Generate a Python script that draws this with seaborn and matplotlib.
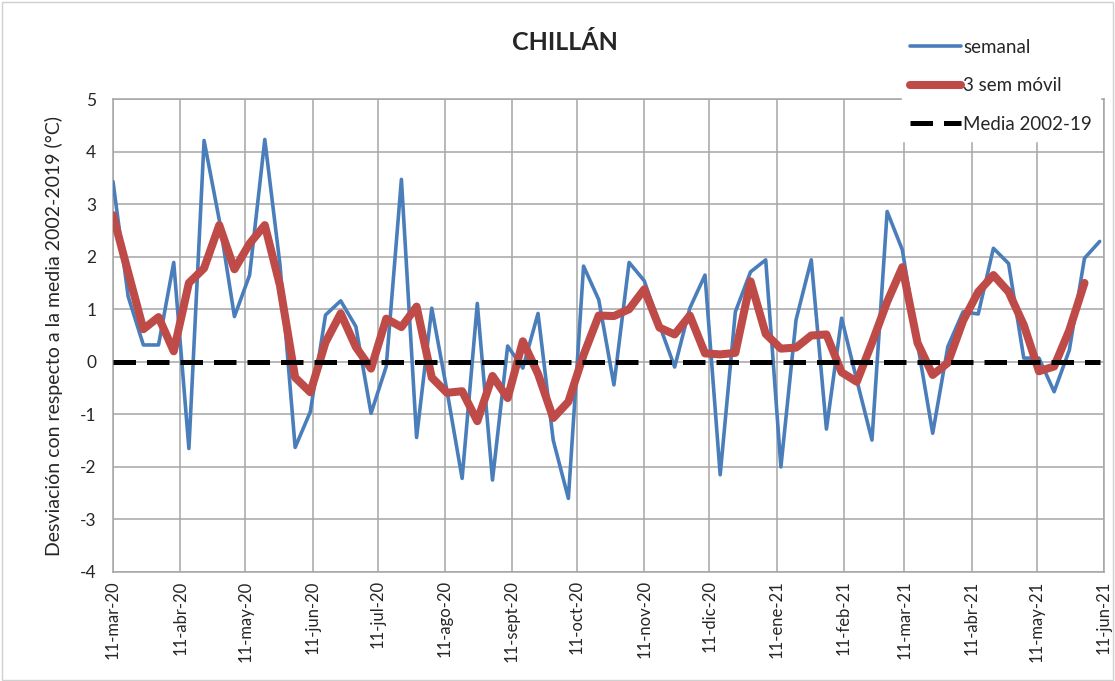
import numpy as np
import pandas as pd
import matplotlib
matplotlib.use("Agg")
import matplotlib.pyplot as plt
from matplotlib.patches import Rectangle
import seaborn as sns

# ---- data ----
start_date = "2020-03-11"
n_weeks = 66
semanal = [3.43, 1.24, 0.32, 0.32, 1.89, -1.65, 4.21, 2.70, 0.86, 1.65,
           4.23, 1.85, -1.63, -0.95, 0.89, 1.16, 0.67, -0.98, -0.09, 3.47,
           -1.44, 1.02, -0.55, -2.22, 1.11, -2.25, 0.30, -0.12, 0.92, -1.49,
           -2.60, 1.82, 1.18, -0.44, 1.89, 1.54, 0.70, -0.10, 1.02, 1.65,
           -2.15, 0.95, 1.71, 1.94, -2.00, 0.80, 1.94, -1.28, 0.83, -0.35,
           -1.49, 2.86, 2.13, 0.35, -1.36, 0.29, 0.95, 0.91, 2.16, 1.87,
           0.07, 0.07, -0.57, 0.22, 1.97, 2.29]
movil = [2.79, 1.70, 0.62, 0.85, 0.20, 1.50, 1.78, 2.60, 1.76, 2.25,
         2.60, 1.45, -0.30, -0.58, 0.37, 0.92, 0.28, -0.13, 0.82, 0.66,
         1.05, -0.30, -0.59, -0.56, -1.13, -0.27, -0.69, 0.39, -0.23, -1.07,
         -0.76, 0.13, 0.88, 0.87, 1.00, 1.38, 0.65, 0.52, 0.88, 0.16,
         0.14, 0.17, 1.53, 0.53, 0.25, 0.27, 0.50, 0.52, -0.20, -0.38,
         0.36, 1.14, 1.80, 0.36, -0.25, -0.02, 0.78, 1.33, 1.65, 1.33,
         0.70, -0.18, -0.09, 0.60, 1.50, np.nan]
media = [0.0] * n_weeks

tick_dates = ["2020-03-11", "2020-04-11", "2020-05-11", "2020-06-11", "2020-07-11",
              "2020-08-11", "2020-09-11", "2020-10-11", "2020-11-11", "2020-12-11",
              "2021-01-11", "2021-02-11", "2021-03-11", "2021-04-11", "2021-05-11",
              "2021-06-11"]
tick_labels = ["11-mar-20", "11-abr-20", "11-may-20", "11-jun-20", "11-jul-20",
               "11-ago-20", "11-sept-20", "11-oct-20", "11-nov-20", "11-dic-20",
               "11-ene-21", "11-feb-21", "11-mar-21", "11-abr-21", "11-may-21",
               "11-jun-21"]
y_ticks = [-4, -3, -2, -1, 0, 1, 2, 3, 4, 5]

fechas = pd.date_range(start_date, periods=n_weeks, freq="7D")
df = pd.DataFrame({"fecha": fechas, "semanal": semanal, "movil": movil, "media": media})

# ---- style ----
sns.set_theme(style="white")
plt.rcParams["font.family"] = ["Lato", "DejaVu Sans"]

fig = plt.figure(figsize=(11.15, 6.81), dpi=100)
ax = fig.add_axes([113 / 1115, 1 - 572 / 681, (1104 - 113) / 1115, (572 - 99) / 681])

grid_c = "#a6a6a6"
sns.lineplot(data=df, x="fecha", y="semanal", ax=ax, color="#4a7ebb", lw=2.6,
             label="semanal", zorder=3)
sns.lineplot(data=df, x="fecha", y="movil", ax=ax, color="#be4b48", lw=5.8,
             label="3 sem móvil", zorder=4, solid_joinstyle="round", solid_capstyle="round")
sns.lineplot(data=df, x="fecha", y="media", ax=ax, color="black", lw=3.6,
             label="Media 2002-19", zorder=5, dashes=False)
ax.lines[-1].set_dashes([4.5, 2.2])

ax.set_xlim(pd.Timestamp(tick_dates[0]), pd.Timestamp(tick_dates[-1]))
ax.set_ylim(y_ticks[0], y_ticks[-1])
ax.set_yticks(y_ticks)
ax.set_yticklabels([str(v) for v in y_ticks], fontsize=12.5)
ax.set_xticks([pd.Timestamp(d) for d in tick_dates])
ax.set_xticklabels(tick_labels, rotation=90, fontsize=12)
ax.tick_params(axis="x", pad=6, length=0)
ax.tick_params(axis="y", pad=12, length=0)
ax.grid(True, color=grid_c, lw=1.1)
ax.set_axisbelow(True)
for s in ax.spines.values():
    s.set_color(grid_c)
    s.set_linewidth(1.1)
ax.set_xlabel("")
ax.set_ylabel("Desviación con respecto a la media 2002-2019 (°C)", fontsize=14, labelpad=12)

fig.text(565 / 1115, 1 - 43 / 681, "CHILLÁN", ha="center", va="center",
         fontsize=18, fontweight="bold")

ax.get_legend().remove()
handles, labels = ax.get_legend_handles_labels()
leg = fig.legend(handles, labels, loc="upper left", bbox_to_anchor=(893 / 1115, 1 - 22 / 681),
                 frameon=True, fontsize=13.5, handlelength=2.7, handletextpad=0.15,
                 labelspacing=1.15, borderpad=0.4, facecolor="white", edgecolor="white",
                 framealpha=1.0, fancybox=False)
leg.set_zorder(10)

fig.patches.append(Rectangle((0.002, 0.002), 0.996, 0.995, transform=fig.transFigure,
                             fill=False, edgecolor="#d0d0d0", lw=1.0))

fig.savefig("out.png", dpi=100)
